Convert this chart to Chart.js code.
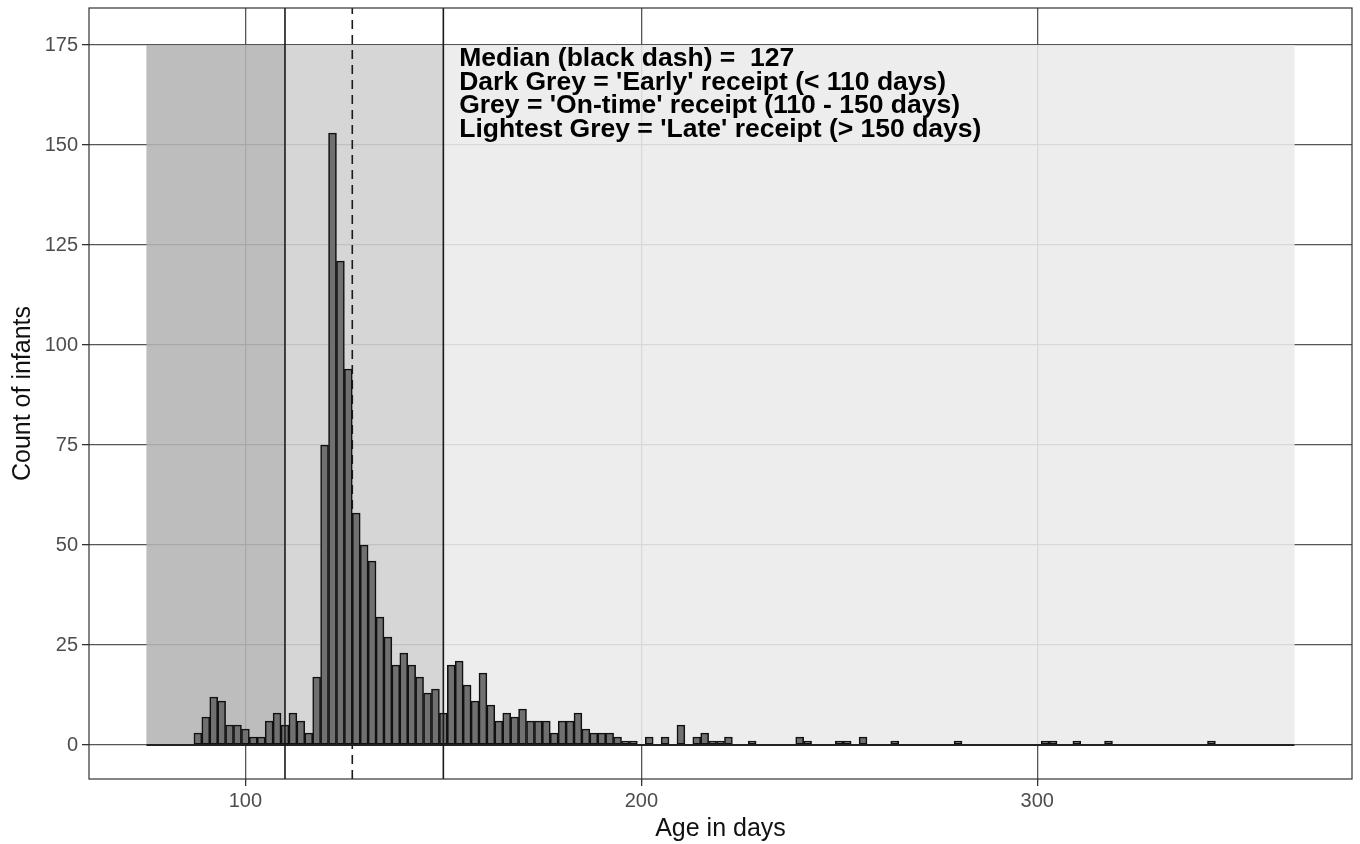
<!DOCTYPE html>
<html>
<head>
<meta charset="utf-8">
<script src="https://cdn.jsdelivr.net/npm/chart.js@4"></script>
<style>
  body { margin: 0; background: #fff; }
</style>
</head>
<body>
<canvas id="myChart" width="1360" height="844"></canvas>
<script>
// histogram bins (2 day wide, centre in days) and counts, only non-empty bins
const binCenters = [88, 90, 92, 94, 96, 98, 100, 102, 104, 106, 108, 110, 112, 114, 116, 118,
  120, 122, 124, 126, 128, 130, 132, 134, 136, 138, 140, 142, 144, 146, 148, 150,
  152, 154, 156, 158, 160, 162, 164, 166, 168, 170, 172, 174, 176, 178, 180, 182,
  184, 186, 188, 190, 192, 194, 196, 198, 202, 206, 210, 214, 216, 218, 220, 222,
  228, 240, 242, 250, 252, 256, 264, 280, 302, 304, 310, 318, 344];
const counts = [3, 7, 12, 11, 5, 5, 4, 2, 2, 6, 8, 5, 8, 6, 3, 17,
  75, 153, 121, 94, 58, 50, 46, 32, 27, 20, 23, 20, 17, 13, 14, 8,
  20, 21, 15, 11, 18, 10, 6, 8, 7, 9, 6, 6, 6, 3, 6, 6,
  8, 4, 3, 3, 3, 2, 1, 1, 2, 2, 5, 2, 3, 1, 1, 2,
  1, 2, 1, 1, 1, 2, 1, 1, 1, 1, 1, 1, 1];

const xTicks = [100, 200, 300];
const yTicks = [0, 25, 50, 75, 100, 125, 150, 175];

// shaded receipt zones
const zoneStart = [75, 110, 150];
const zoneEnd = [110, 150, 365];
const zoneTop = 175;
const zoneColors = ["rgba(180,180,180,0.88)", "rgba(208,208,208,0.88)", "rgba(234,234,234,0.88)"];

const medianAge = 127;
const cutoffs = [110, 150];

const notes = [
  "Median (black dash) =  127",
  "Dark Grey = 'Early' receipt (< 110 days)",
  "Grey = 'On-time' receipt (110 - 150 days)",
  "Lightest Grey = 'Late' receipt (> 150 days)",
];

const xMin = 60.5, xMax = 379.5, yMin = -8.5, yMax = 184.25;

Chart.defaults.font.family = "'Liberation Sans', Arial, sans-serif";

const zonesPlugin = {
  id: "zones",
  beforeDatasetsDraw(chart) {
    const { ctx, scales: { x, y } } = chart;
    ctx.save();
    for (let i = 0; i < zoneStart.length; i++) {
      const x0 = x.getPixelForValue(zoneStart[i]);
      const x1 = x.getPixelForValue(zoneEnd[i]);
      const y0 = y.getPixelForValue(zoneTop);
      const y1 = y.getPixelForValue(0);
      ctx.fillStyle = zoneColors[i];
      ctx.fillRect(x0, y0, x1 - x0, y1 - y0);
    }
    ctx.restore();
  },
  afterDatasetsDraw(chart) {
    const { ctx, chartArea, scales: { x, y } } = chart;
    ctx.save();
    // annotation
    ctx.fillStyle = "#000";
    ctx.font = "bold 26.5px 'Liberation Sans', Arial, sans-serif";
    ctx.textBaseline = "alphabetic";
    const tx = x.getPixelForValue(154);
    const ty = y.getPixelForValue(175);
    notes.forEach((t, i) => ctx.fillText(t, tx, ty + 21 + i * 23.5));
    // panel border
    ctx.strokeStyle = "#333";
    ctx.lineWidth = 1.2;
    ctx.strokeRect(chartArea.left, chartArea.top, chartArea.right - chartArea.left, chartArea.bottom - chartArea.top);
    ctx.restore();
  },
};

const vline = (v, dash, order) => ({
  type: "line",
  data: [{ x: v, y: yMin }, { x: v, y: yMax }],
  borderColor: "#1a1a1a",
  borderWidth: 1.6,
  borderDash: dash,
  pointRadius: 0,
  order,
});

const data = {
  datasets: [
    vline(medianAge, [9, 6], 3),
    {
      type: "bar",
      data: binCenters.map((c, i) => ({ x: c, y: counts[i] })),
      backgroundColor: "#707070",
      borderColor: "#111",
      borderWidth: 1.6,
      borderSkipped: false,
      barPercentage: 1,
      categoryPercentage: 1,
      order: 2,
    },
    {
      type: "line",
      data: [{ x: zoneStart[0], y: 0 }, { x: zoneEnd[2], y: 0 }],
      borderColor: "#222",
      borderWidth: 1.8,
      pointRadius: 0,
      order: 1,
    },
    vline(cutoffs[0], [], 0),
    vline(cutoffs[1], [], 0),
  ],
};

const config = {
  type: "bar",
  data: data,
  plugins: [zonesPlugin],
  options: {
    responsive: false,
    animation: false,
    layout: { padding: { left: 0, right: 8, top: 8, bottom: 0 } },
    plugins: { legend: { display: false }, tooltip: { enabled: false } },
    scales: {
      x: {
        type: "linear",
        min: xMin,
        max: xMax,
        offset: false,
        afterBuildTicks: (s) => { s.ticks = xTicks.map((v) => ({ value: v })); },
        afterFit: (s) => { s.height = 65; s.paddingLeft = 0; s.paddingRight = 0; },
        grid: { offset: false, color: "#555", lineWidth: 1.3, tickLength: 7, tickColor: "#333" },
        border: { display: false },
        ticks: { color: "#4d4d4d", font: { size: 20 }, padding: 3, maxRotation: 0 },
        title: { display: true, text: "Age in days", color: "#111", font: { size: 25 }, padding: { top: 0, bottom: 0 } },
      },
      y: {
        min: yMin,
        max: yMax,
        afterBuildTicks: (s) => { s.ticks = yTicks.map((v) => ({ value: v })); },
        afterFit: (s) => { s.width = 89; s.paddingTop = 0; s.paddingBottom = 0; },
        grid: { color: "#555", lineWidth: 1.3, tickLength: 7, tickColor: "#333" },
        border: { display: false },
        ticks: { color: "#4d4d4d", font: { size: 20 }, padding: 4 },
        title: { display: true, text: "Count of infants", color: "#111", font: { size: 25 }, padding: { top: 8, bottom: 0 } },
      },
    },
  },
};

const myChart = new Chart(document.querySelector("#myChart").getContext("2d"), config);
</script>
</body>
</html>
